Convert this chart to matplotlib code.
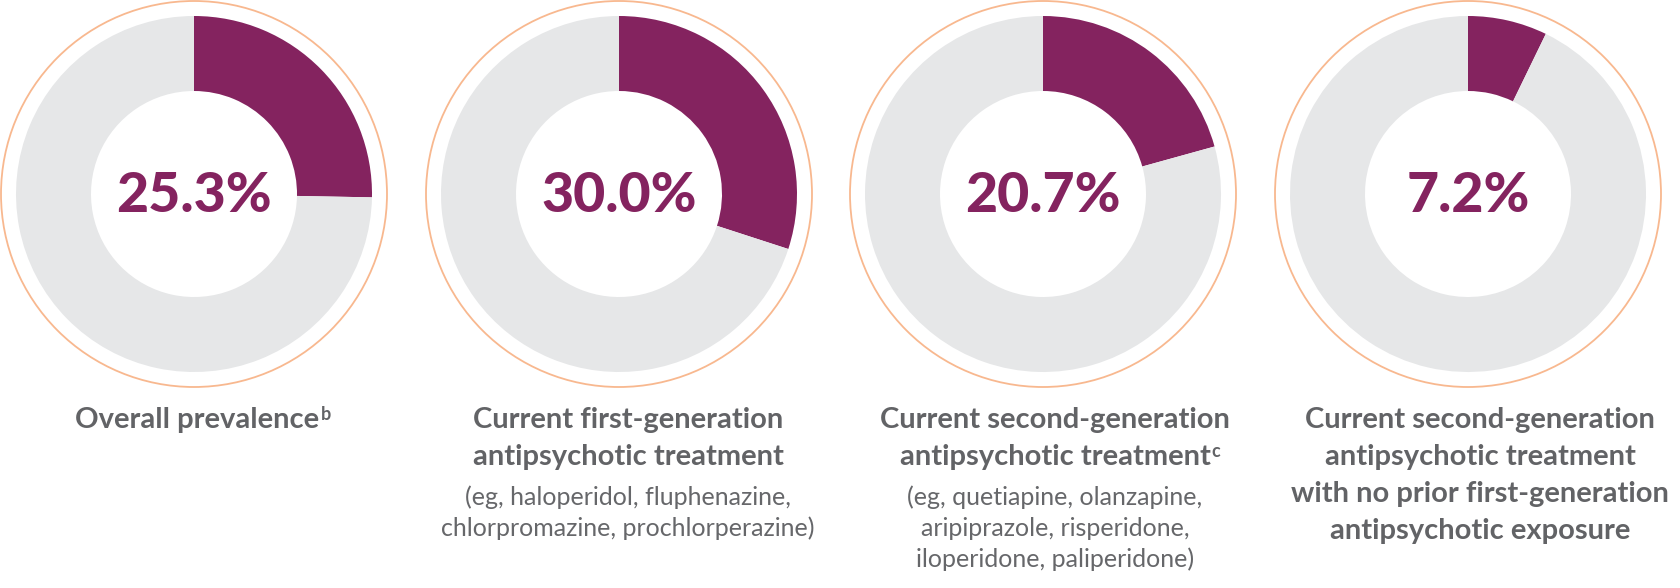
import matplotlib
matplotlib.use("Agg")
import matplotlib.pyplot as plt
from matplotlib.patches import Circle

# values shown in the centre of each ring (%)
values = [25.3, 30.0, 20.7, 7.2]
value_labels = ["25.3%", "30.0%", "20.7%", "7.2%"]

# bold caption lines, superscript note for the last bold line, light lines
bold_lines = [
    ["Overall prevalence"],
    ["Current first-generation", "antipsychotic treatment"],
    ["Current second-generation", "antipsychotic treatment"],
    ["Current second-generation", "antipsychotic treatment",
     "with no prior first-generation", "antipsychotic exposure"],
]
notes = ["b", "", "c", ""]
light_lines = [
    [],
    ["(eg, haloperidol, fluphenazine,", "chlorpromazine, prochlorperazine)"],
    ["(eg, quetiapine, olanzapine,", "aripiprazole, risperidone,", "iloperidone, paliperidone)"],
    [],
]

purple = "#84235F"
ring_gray = "#E6E7E8"
orange = "#F8B88F"
bold_gray = "#626366"
light_gray = "#66676A"

W, H = 1680, 588
fig = plt.figure(figsize=(W / 100, H / 100), dpi=100)
ax = fig.add_axes([0, 0, 1, 1])

centers_x = [194, 619, 1043, 1468]
label_x = [197, 628, 1055, 1480]
cy = H - 194

for i, v in enumerate(values):
    cx = centers_x[i]
    ax.pie([v, 100 - v], radius=178, center=(cx, cy), startangle=90,
           counterclock=False, colors=[purple, ring_gray],
           wedgeprops=dict(width=75, linewidth=0))
    ax.add_patch(Circle((cx, cy), 193, fill=False, edgecolor=orange, lw=1.3))
    ax.text(cx, cy - 2, value_labels[i], ha="center", va="center",
            fontsize=40, fontweight="black", color=purple, family="Lato")

    # captions
    base = H - 428
    t = None
    for j, line in enumerate(bold_lines[i]):
        t = ax.text(label_x[i], base - 37 * j, line, ha="center", va="baseline",
                    fontsize=21, fontweight="bold", color=bold_gray, family="Lato")
    if notes[i]:
        ax.annotate(notes[i], xy=(1, 1), xycoords=t, xytext=(1, 1),
                    textcoords="offset points", ha="left", va="top",
                    fontsize=13, fontweight="bold", color=bold_gray, family="Lato")
    last = base - 37 * (len(bold_lines[i]) - 1)
    for j, line in enumerate(light_lines[i]):
        ax.text(label_x[i], last - 40 - 31 * j, line, ha="center", va="baseline",
                fontsize=18, fontweight="normal", color=light_gray, family="Lato")

ax.set_xlim(0, W)
ax.set_ylim(0, H)
ax.set_aspect("equal")
ax.axis("off")

fig.savefig("out.png", dpi=100, facecolor="white")
